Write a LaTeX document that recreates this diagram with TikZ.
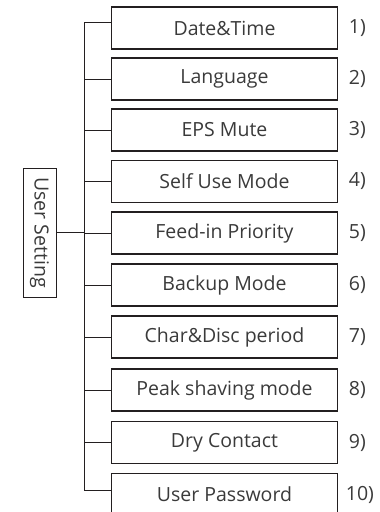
\documentclass[tikz,border=0pt]{standalone}
\usepackage{fontspec}
\setmainfont{Open Sans}
\usetikzlibrary{positioning}
\definecolor{txtgray}{HTML}{3A3A3A}
\definecolor{linedark}{HTML}{231F20}

\begin{document}
\begin{tikzpicture}[x=1pt,y=-1pt,
  menubox/.style={draw=linedark, line width=1.8pt, minimum width=226pt, minimum height=42pt, inner sep=0pt, text=txtgray, font=\fontsize{19.5}{21}\selectfont},
  numlbl/.style={anchor=west, text=txtgray, font=\fontsize{19.5}{21}\selectfont},
  branch/.style={draw=linedark, line width=1pt}]
\useasboundingbox (0,0) rectangle (380,512);

\node[draw=linedark, line width=1pt, minimum width=129pt, minimum height=33pt, inner sep=0pt, rotate=-90, text=txtgray, font=\fontsize{19.5}{21}\selectfont] (root) at (39.5,232.5) {User Setting};

\node[menubox] (m1) at (224.5,28) {Date\&Time};
\node[menubox] (m2) at (224.5,79) {Language};
\node[menubox] (m3) at (224.5,130) {EPS Mute};
\node[menubox] (m4) at (224.5,181.5) {Self Use Mode};
\node[menubox] (m5) at (224.5,233.3) {Feed-in Priority};
\node[menubox] (m6) at (224.5,285.3) {Backup Mode};
\node[menubox] (m7) at (224.5,337.3) {Char\&Disc period};
\node[menubox] (m8) at (224.5,390.3) {Peak shaving mode};
\node[menubox] (m9) at (224.5,442.5) {Dry Contact};
\node[menubox] (m10) at (224.5,494.5) {User Password};

\node[numlbl] at (m1.east) [xshift=7pt] {1)};
\node[numlbl] at (m2.east) [xshift=7pt] {2)};
\node[numlbl] at (m3.east) [xshift=7pt] {3)};
\node[numlbl] at (m4.east) [xshift=7pt] {4)};
\node[numlbl] at (m5.east) [xshift=7pt] {5)};
\node[numlbl] at (m6.east) [xshift=7pt] {6)};
\node[numlbl] at (m7.east) [xshift=7pt] {7)};
\node[numlbl] at (m8.east) [xshift=7pt] {8)};
\node[numlbl] at (m9.east) [xshift=7pt] {9)};
\node[numlbl] at (m10.east) [xshift=4pt] {10)};

% trunk
\coordinate (ttop) at (84,22);
\coordinate (tbot) at (84,490);
\draw[branch] (ttop) -- (tbot);
\draw[branch] (root.north) -- (root.north -| ttop);
\draw[branch] (ttop) -- (ttop -| m1.west);
\draw[branch] (m2.west -| ttop) -- (m2.west);
\draw[branch] (m3.west -| ttop) -- (m3.west);
\draw[branch] (m4.west -| ttop) -- (m4.west);
\draw[branch] (m5.west -| ttop) -- (m5.west);
\draw[branch] (m6.west -| ttop) -- (m6.west);
\draw[branch] (m7.west -| ttop) -- (m7.west);
\draw[branch] (m8.west -| ttop) -- (m8.west);
\draw[branch] (m9.west -| ttop) -- (m9.west);
\draw[branch] (tbot) -- (tbot -| m10.west);
\end{tikzpicture}
\end{document}
